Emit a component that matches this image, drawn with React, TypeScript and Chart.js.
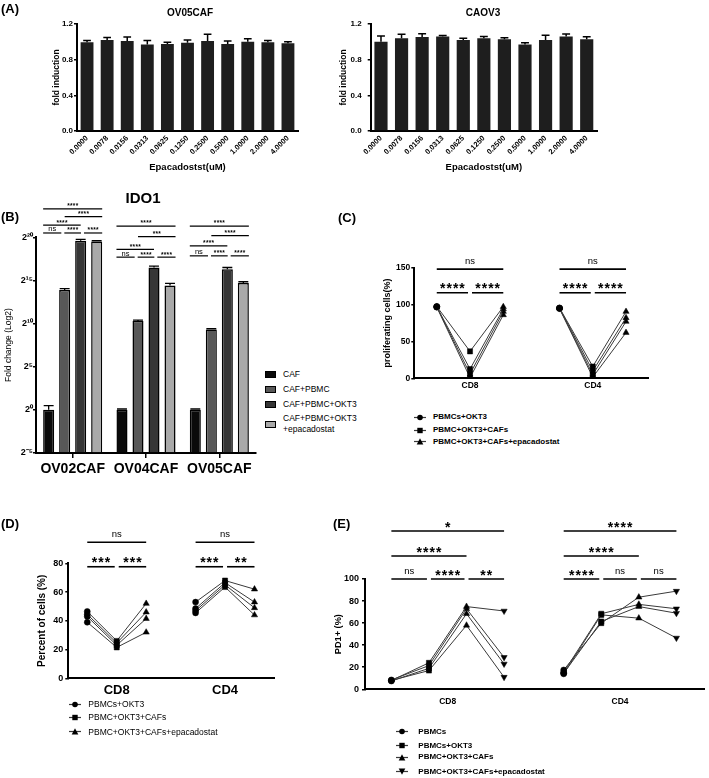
import React, { useEffect, useRef } from 'react';
import { Chart, registerables } from 'chart.js';

Chart.register(...registerables);

const FONT = '"Liberation Sans", Arial, Helvetica, sans-serif';
Chart.defaults.font.family = FONT;
Chart.defaults.color = '#000';

// ---------------- Panel A data ----------------
const A_DOSES = ['0.0000', '0.0078', '0.0156', '0.0313', '0.0625', '0.1250', '0.2500', '0.5000', '1.0000', '2.0000', '4.0000'];
const OV05_MEAN = [0.995, 1.02, 1.01, 0.97, 0.975, 0.99, 1.01, 0.975, 1.0, 0.995, 0.985];
const OV05_ERR = [0.02, 0.03, 0.045, 0.045, 0.02, 0.03, 0.075, 0.035, 0.035, 0.02, 0.015];
const CAOV3_MEAN = [1.0, 1.04, 1.055, 1.06, 1.02, 1.04, 1.03, 0.97, 1.02, 1.06, 1.03];
const CAOV3_ERR = [0.065, 0.045, 0.035, 0.01, 0.02, 0.02, 0.015, 0.02, 0.055, 0.028, 0.028];
const A_XTITLE = 'Epacadostst(uM)';
const A_YTITLE = 'fold induction';

// ---------------- Panel B data (log2 fold change) ----------------
const B_GROUPS = ['OV02CAF', 'OV04CAF', 'OV05CAF'];
const B_SERIES = ['CAF', 'CAF+PBMC', 'CAF+PBMC+OKT3', 'CAF+PBMC+OKT3\n+epacadostat'];
const B_CAF = [0, 0, 0];
const B_PBMC = [13.9, 10.3, 9.3];
const B_OKT3 = [19.6, 16.5, 16.3];
const B_EPA = [19.5, 14.4, 14.7];
const B_CAF_ERR = [0.5, 0.1, 0.1];
const B_PBMC_ERR = [0.15, 0.1, 0.1];
const B_OKT3_ERR = [0.15, 0.15, 0.2];
const B_EPA_ERR = [0.1, 0.25, 0.15];
const B_COLORS = ['#0a0a0a', '#585858', '#363636', '#a9a9a9'];
const B_SIG = [
  { g: 0, i: 0, j: 1, y: 20.5, t: 'ns' }, { g: 0, i: 1, j: 2, y: 20.5, t: '****' }, { g: 0, i: 2, j: 3, y: 20.5, t: '****' },
  { g: 0, i: 0, j: 2, y: 21.4, t: '****' }, { g: 0, i: 1, j: 3, y: 22.4, t: '****' }, { g: 0, i: 0, j: 3, y: 23.3, t: '****' },
  { g: 1, i: 0, j: 1, y: 17.7, t: 'ns' }, { g: 1, i: 1, j: 2, y: 17.7, t: '****' }, { g: 1, i: 2, j: 3, y: 17.7, t: '****' },
  { g: 1, i: 0, j: 2, y: 18.6, t: '****' }, { g: 1, i: 1, j: 3, y: 20.07, t: '***' }, { g: 1, i: 0, j: 3, y: 21.3, t: '****' },
  { g: 2, i: 0, j: 1, y: 17.85, t: 'ns' }, { g: 2, i: 1, j: 2, y: 17.85, t: '****' }, { g: 2, i: 2, j: 3, y: 17.85, t: '****' },
  { g: 2, i: 0, j: 2, y: 19.0, t: '****' }, { g: 2, i: 1, j: 3, y: 20.2, t: '****' }, { g: 2, i: 0, j: 3, y: 21.3, t: '****' },
];

// ---------------- Panel C data ----------------
const CELL_GROUPS = ['CD8', 'CD4'];
const C_SERIES = ['PBMCs+OKT3', 'PBMC+OKT3+CAFs', 'PBMC+OKT3+CAFs+epacadostat'];
const C_CD8_OKT3 = [97.5, 97, 97, 96.5];
const C_CD8_CAF = [36.5, 12.5, 6, 1];
const C_CD8_EPA = [97, 94, 90.5, 86];
const C_CD4_OKT3 = [95.5, 95, 95, 94.5];
const C_CD4_CAF = [16, 10, 5, 1.5];
const C_CD4_EPA = [90.5, 82, 77, 62];
const C_SIG = [
  { g: 0, i: 0, j: 2, y: 148, t: 'ns' }, { g: 0, i: 0, j: 1, y: 116, t: '****' }, { g: 0, i: 1, j: 2, y: 116, t: '****' },
  { g: 1, i: 0, j: 2, y: 148, t: 'ns' }, { g: 1, i: 0, j: 1, y: 116, t: '****' }, { g: 1, i: 1, j: 2, y: 116, t: '****' },
];

// ---------------- Panel D data ----------------
const D_SERIES = ['PBMCs+OKT3', 'PBMC+OKT3+CAFs', 'PBMC+OKT3+CAFs+epacadostat'];
const D_CD8_OKT3 = [46.5, 44.5, 43, 39];
const D_CD8_CAF = [26, 24.5, 23, 21.5];
const D_CD8_EPA = [52, 46, 41.5, 32];
const D_CD4_OKT3 = [53, 48.5, 47, 45.5];
const D_CD4_CAF = [68, 66.5, 65, 63.5];
const D_CD4_EPA = [62, 53, 49, 44];
const D_SIG = [
  { g: 0, i: 0, j: 2, y: 94.6, t: 'ns' }, { g: 0, i: 0, j: 1, y: 77.6, t: '***' }, { g: 0, i: 1, j: 2, y: 77.6, t: '***' },
  { g: 1, i: 0, j: 2, y: 94.6, t: 'ns' }, { g: 1, i: 0, j: 1, y: 77.6, t: '***' }, { g: 1, i: 1, j: 2, y: 77.6, t: '**' },
];

// ---------------- Panel E data ----------------
const E_SERIES = ['PBMCs', 'PBMCs+OKT3', 'PBMC+OKT3+CAFs', 'PBMC+OKT3+CAFs+epacadostat'];
const E_CD8_PBMC = [8, 8.5, 7.5, 8];
const E_CD8_OKT3 = [24, 21.5, 19, 17];
const E_CD8_CAF = [75, 73, 68.5, 58];
const E_CD8_EPA = [71, 29, 23, 11];
const E_CD4_PBMC = [17.5, 15.5, 14.5, 14];
const E_CD4_OKT3 = [60, 68.5, 61.5, 67.5];
const E_CD4_CAF = [83.5, 77, 75, 64.5];
const E_CD4_EPA = [89, 73, 69, 46.5];
const E_SIG = [
  { g: 0, i: 0, j: 3, y: 143.5, t: '*' }, { g: 0, i: 0, j: 2, y: 120.8, t: '****' },
  { g: 0, i: 0, j: 1, y: 100, t: 'ns' }, { g: 0, i: 1, j: 2, y: 100, t: '****' }, { g: 0, i: 2, j: 3, y: 100, t: '**' },
  { g: 1, i: 0, j: 3, y: 143.5, t: '****' }, { g: 1, i: 0, j: 2, y: 120.8, t: '****' },
  { g: 1, i: 0, j: 1, y: 100, t: '****' }, { g: 1, i: 1, j: 2, y: 100, t: 'ns' }, { g: 1, i: 2, j: 3, y: 100, t: 'ns' },
];

// ---------------- helpers ----------------
const bold = (size: number) => ({ size, weight: 'bold' as any, family: FONT });
const normal = (size: number) => ({ size, weight: 'normal' as any, family: FONT });
const axisBorder = { display: true, color: '#000', width: 2 };
const SUP: Record<string, string> = { '0': '⁰', '1': '¹', '2': '²', '3': '³', '4': '⁴', '5': '⁵', '6': '⁶', '7': '⁷', '8': '⁸', '9': '⁹', '-': '⁻' };
const toSup = (n: number) => String(n).split('').map((c) => SUP[c] || c).join('');

function errorBars(errs: number[][], capFrac: number, lw: number) {
  return {
    id: 'errbars',
    afterDatasetsDraw(chart: any) {
      const ctx = chart.ctx;
      const ys = chart.scales.y;
      ctx.save();
      ctx.strokeStyle = '#000';
      ctx.lineWidth = lw;
      errs.forEach((arr, di) => {
        const meta = chart.getDatasetMeta(di);
        meta.data.forEach((bar: any, i: number) => {
          const v = chart.data.datasets[di].data[i];
          const top = ys.getPixelForValue(v + arr[i]);
          const half = (bar.width * capFrac) / 2;
          ctx.beginPath();
          ctx.moveTo(bar.x, bar.y);
          ctx.lineTo(bar.x, top);
          ctx.moveTo(bar.x - half, top);
          ctx.lineTo(bar.x + half, top);
          ctx.stroke();
        });
      });
      ctx.restore();
    },
  };
}

type TxtStyle = { size: number; weight: string; ls: number; off: number };
type SigStyle = { lw: number; star: TxtStyle; ns: TxtStyle };

function sigPlugin(items: any[], style: SigStyle, xOf: (chart: any, it: any) => number[]) {
  return {
    id: 'sig',
    afterDraw(chart: any) {
      const ctx = chart.ctx;
      const ys = chart.scales.y;
      ctx.save();
      for (const it of items) {
        const [x1, x2] = xOf(chart, it);
        const py = ys.getPixelForValue(it.y);
        ctx.strokeStyle = '#000';
        ctx.lineWidth = style.lw;
        ctx.beginPath();
        ctx.moveTo(x1, py);
        ctx.lineTo(x2, py);
        ctx.stroke();
        const f = it.t === 'ns' ? style.ns : style.star;
        ctx.font = `${f.weight} ${f.size}px ${FONT}`;
        try { (ctx as any).letterSpacing = `${f.ls}px`; } catch (e) { /* ignore */ }
        ctx.textAlign = 'center';
        ctx.textBaseline = 'alphabetic';
        ctx.fillStyle = '#000';
        ctx.fillText(it.t, (x1 + x2) / 2 + f.ls / 2, py - f.off);
      }
      ctx.restore();
    },
  };
}

const barBracketX = (gapPx: number) => (chart: any, it: any) => {
  const n = chart.data.datasets.length;
  const bars = Array.from({ length: n }, (_, k) => chart.getDatasetMeta(k).data[it.g]);
  const L = bars[0].x - bars[0].width / 2;
  const R = bars[n - 1].x + bars[n - 1].width / 2;
  if (it.j === it.i + 1) {
    const seg = (R - L) / (n - 1);
    return [L + it.i * seg + (it.i > 0 ? gapPx : 0), L + it.j * seg - (it.j < n - 1 ? gapPx : 0)];
  }
  return [it.i === 0 ? L : bars[it.i].x, it.j === n - 1 ? R : bars[it.j].x];
};

const lineBracketX = (offsets: number[], gapPx: number) => (chart: any, it: any) => {
  const xs = chart.scales.x;
  const n = offsets.length;
  let x1 = xs.getPixelForValue(it.g + 1 + offsets[it.i]);
  let x2 = xs.getPixelForValue(it.g + 1 + offsets[it.j]);
  if (it.j === it.i + 1) {
    if (it.i > 0) x1 += gapPx;
    if (it.j < n - 1) x2 -= gapPx;
  }
  return [x1, x2];
};

// ---------------- chart factories ----------------
function makeA(mean: number[], err: number[], g: { padLeft: number; yWidth: number; tickPad: number; padRight: number }) {
  return {
    type: 'bar',
    data: {
      labels: A_DOSES,
      datasets: [{ data: mean, backgroundColor: '#1e1e1e', borderWidth: 0, barPercentage: 0.64, categoryPercentage: 1 }],
    },
    options: {
      responsive: false,
      animation: false,
      devicePixelRatio: 1,
      layout: { padding: { left: g.padLeft, top: 24, right: g.padRight, bottom: 0 } },
      plugins: { legend: { display: false }, tooltip: { enabled: false } },
      scales: {
        x: {
          grid: { display: false, drawTicks: false },
          border: axisBorder,
          ticks: { autoSkip: false, minRotation: 45, maxRotation: 45, padding: 3, font: bold(7.5), color: '#000' },
          title: { display: true, text: A_XTITLE, font: bold(9.5), color: '#000', padding: { top: 0, bottom: 5 } },
          afterFit: (s: any) => { s.height = 47; },
        },
        y: {
          min: 0,
          max: 1.2,
          ticks: { stepSize: 0.4, callback: (v: any) => Number(v).toFixed(1), font: bold(8), padding: g.tickPad, color: '#000' },
          grid: { drawOnChartArea: false, drawTicks: true, tickLength: 3, color: '#000', lineWidth: 1.5 },
          border: axisBorder,
          title: { display: true, text: A_YTITLE, font: bold(8.5), color: '#000', padding: 0 },
          afterFit: (s: any) => { s.width = g.yWidth; },
        },
      },
    },
    plugins: [errorBars([err], 0.6, 1.5)],
  };
}

function makeB() {
  const series = [B_CAF, B_PBMC, B_OKT3, B_EPA];
  const errs = [B_CAF_ERR, B_PBMC_ERR, B_OKT3_ERR, B_EPA_ERR];
  return {
    type: 'bar',
    data: {
      labels: B_GROUPS,
      datasets: series.map((d, i) => ({
        label: B_SERIES[i],
        data: d,
        base: -5,
        backgroundColor: B_COLORS[i],
        borderColor: '#000',
        borderWidth: 1.5,
        barPercentage: 0.69,
        categoryPercentage: 0.873,
      })),
    },
    options: {
      responsive: false,
      animation: false,
      devicePixelRatio: 1,
      layout: { padding: { left: 4, top: 47.3, right: 6, bottom: 0 } },
      plugins: { legend: { display: false }, tooltip: { enabled: false } },
      scales: {
        x: {
          offset: true,
          grid: { offset: false, drawOnChartArea: false, drawTicks: true, tickLength: 5, color: '#000', lineWidth: 1.5 },
          border: axisBorder,
          ticks: { font: bold(14), padding: 3, color: '#000' },
          afterFit: (s: any) => { s.height = 37; },
        },
        y: {
          min: -5,
          max: 20,
          ticks: { stepSize: 5, callback: (v: any) => '2' + toSup(Number(v)), font: bold(9), padding: 0, color: '#000' },
          grid: { drawOnChartArea: false, drawTicks: true, tickLength: 3, color: '#000', lineWidth: 1.5 },
          border: axisBorder,
          title: { display: true, text: 'Fold change (Log2)', font: normal(8.5), color: '#000', padding: 0 },
          afterFit: (s: any) => { s.width = 32; },
        },
      },
    },
    plugins: [
      errorBars(errs, 0.9, 1.3),
      sigPlugin(
        B_SIG,
        { lw: 1.2, star: { size: 6.5, weight: 'bold', ls: 0.3, off: 0.6 }, ns: { size: 7.5, weight: 'normal', ls: 0, off: 1.6 } },
        barBracketX(1.5)
      ),
    ],
  };
}

const MARKER_STYLE: Record<string, { ps: string; rot: number; r: number }> = {
  circle: { ps: 'circle', rot: 0, r: 3 },
  rect: { ps: 'rect', rot: 0, r: 3.6 },
  tri: { ps: 'triangle', rot: 0, r: 3.6 },
  triDown: { ps: 'triangle', rot: 180, r: 3.6 },
};

type LineCfg = {
  conds: number[][][]; // [group][condition][donor]
  markers: string[];
  offsets: number[];
  xmin: number; xmax: number; ymax: number; ystep: number;
  ytitle: string; yTitleFont: any; yTickFont: any; xTickFont: any;
  padding: any; yWidth: number; xHeight: number; xTickPad: number; yTickPad: number;
  sig: any[];
};

function makeLine(c: LineCfg) {
  const nDonor = c.conds[0][0].length;
  const datasets: any[] = [];
  for (let d = 0; d < nDonor; d++) {
    const data: any[] = [];
    const ps: string[] = [];
    const rot: number[] = [];
    const rad: number[] = [];
    c.conds.forEach((grp, g) => {
      if (g > 0) { data.push({ x: g + 0.5, y: null }); ps.push('circle'); rot.push(0); rad.push(0); }
      grp.forEach((vals, k) => {
        const m = MARKER_STYLE[c.markers[k]];
        data.push({ x: g + 1 + c.offsets[k], y: vals[d] });
        ps.push(m.ps); rot.push(m.rot); rad.push(m.r);
      });
    });
    datasets.push({
      data,
      pointStyle: ps,
      pointRotation: rot,
      pointRadius: rad,
      borderColor: '#3a3a3a',
      borderWidth: 1,
      pointBackgroundColor: '#000',
      pointBorderColor: '#000',
      pointBorderWidth: 0.5,
      spanGaps: false,
      tension: 0,
      fill: false,
    });
  }
  return {
    type: 'line',
    data: { datasets },
    options: {
      responsive: false,
      animation: false,
      devicePixelRatio: 1,
      layout: { padding: c.padding },
      plugins: { legend: { display: false }, tooltip: { enabled: false } },
      scales: {
        x: {
          type: 'linear',
          min: c.xmin,
          max: c.xmax,
          afterBuildTicks: (s: any) => { s.ticks = CELL_GROUPS.map((_, i) => ({ value: i + 1 })); },
          ticks: { callback: (v: any) => CELL_GROUPS[Math.round(Number(v)) - 1] ?? '', font: c.xTickFont, padding: c.xTickPad, color: '#000', autoSkip: false, maxRotation: 0 },
          grid: { display: false, drawTicks: false },
          border: axisBorder,
          afterFit: (s: any) => { s.height = c.xHeight; },
        },
        y: {
          min: 0,
          max: c.ymax,
          ticks: { stepSize: c.ystep, font: c.yTickFont, padding: c.yTickPad, color: '#000' },
          grid: { drawOnChartArea: false, drawTicks: true, tickLength: 3, color: '#000', lineWidth: 1.5 },
          border: axisBorder,
          title: { display: true, text: c.ytitle, font: c.yTitleFont, color: '#000', padding: 0 },
          afterFit: (s: any) => { s.width = c.yWidth; },
        },
      },
    },
    plugins: [
      sigPlugin(
        c.sig,
        { lw: 1.6, star: { size: 14, weight: 'bold', ls: 1, off: -0.5 }, ns: { size: 9.5, weight: 'normal', ls: 0, off: 5.5 } },
        lineBracketX(c.offsets, 2)
      ),
    ],
  };
}

// ---------------- components ----------------
function ChartCanvas({ left, top, width, height, make }: { left: number; top: number; width: number; height: number; make: () => any }) {
  const ref = useRef<HTMLCanvasElement>(null);
  useEffect(() => {
    const chart = new Chart(ref.current as HTMLCanvasElement, make());
    return () => chart.destroy();
  }, []);
  return <canvas ref={ref} width={width} height={height} style={{ position: 'absolute', left, top, width, height }} />;
}

function Txt({ x, y, size, weight = 'bold', left = false, children }: any) {
  return (
    <div
      style={{
        position: 'absolute', left: x, top: y,
        transform: left ? 'translate(0,-50%)' : 'translate(-50%,-50%)',
        fontSize: size, fontWeight: weight, lineHeight: 1, whiteSpace: 'nowrap', color: '#000',
      }}
    >
      {children}
    </div>
  );
}

function Marker({ kind }: { kind: string }) {
  if (kind === 'circle') return <circle cx={6} cy={4.5} r={2.8} fill="#000" />;
  if (kind === 'rect') return <rect x={3.3} y={1.8} width={5.4} height={5.4} fill="#000" />;
  if (kind === 'tri') return <polygon points="6,1.2 9.3,7.4 2.7,7.4" fill="#000" />;
  return <polygon points="6,7.8 9.3,1.6 2.7,1.6" fill="#000" />;
}

function LineLegend({ mx, tx, rows, kinds, labels, size, weight }: any) {
  return (
    <>
      {labels.map((t: string, i: number) => (
        <React.Fragment key={i}>
          <svg width={12} height={9} style={{ position: 'absolute', left: mx - 6, top: rows[i] - 4.5 }}>
            <line x1={0} y1={4.5} x2={12} y2={4.5} stroke="#3a3a3a" strokeWidth={1.2} />
            <Marker kind={kinds[i]} />
          </svg>
          <Txt x={tx} y={rows[i]} size={size} weight={weight} left>
            {t}
          </Txt>
        </React.Fragment>
      ))}
    </>
  );
}

function BarLegend() {
  const rows = [374, 389, 404, 424];
  return (
    <>
      {B_SERIES.map((t, i) => (
        <React.Fragment key={i}>
          <div
            style={{
              position: 'absolute', left: 265, top: rows[i] - 3.5, width: 11, height: 7, boxSizing: 'border-box',
              border: '1.5px solid #000', background: B_COLORS[i],
            }}
          />
          <div
            style={{
              position: 'absolute', left: 283, top: rows[i], transform: 'translate(0,-50%)',
              fontSize: 8.5, lineHeight: '11px', whiteSpace: 'pre', color: '#000',
            }}
          >
            {t}
          </div>
        </React.Fragment>
      ))}
    </>
  );
}

export default function App() {
  return (
    <div
      style={{
        position: 'absolute', left: 0, top: 0, width: 709, height: 778, background: '#fff',
        overflow: 'hidden', fontFamily: FONT,
      }}
    >
      {/* Panel A */}
      <ChartCanvas left={0} top={0} width={345} height={178}
        make={() => makeA(OV05_MEAN, OV05_ERR, { padLeft: 52, yWidth: 25, tickPad: 1, padRight: 47 })} />
      <ChartCanvas left={294} top={0} width={345} height={178}
        make={() => makeA(CAOV3_MEAN, CAOV3_ERR, { padLeft: 45, yWidth: 31.7, tickPad: 6, padRight: 42 })} />
      <Txt x={1} y={8} size={13} left>(A)</Txt>
      <Txt x={190} y={13} size={10}>OV05CAF</Txt>
      <Txt x={483} y={13} size={10}>CAOV3</Txt>

      {/* Panel B */}
      <ChartCanvas left={0} top={190} width={262} height={300} make={makeB} />
      <Txt x={1} y={216} size={13} left>(B)</Txt>
      <Txt x={143} y={197} size={15}>IDO1</Txt>
      <BarLegend />

      {/* Panel C */}
      <ChartCanvas left={340} top={240} width={320} height={165}
        make={() => makeLine({
          conds: [[C_CD8_OKT3, C_CD8_CAF, C_CD8_EPA], [C_CD4_OKT3, C_CD4_CAF, C_CD4_EPA]],
          markers: ['circle', 'rect', 'tri'],
          offsets: [-0.271, 0, 0.271],
          xmin: 0.546, xmax: 2.45, ymax: 150, ystep: 50,
          ytitle: 'proliferating cells(%)', yTitleFont: bold(9), yTickFont: bold(8.5), xTickFont: bold(8.5),
          padding: { left: 42.6, top: 27.7, right: 12, bottom: 0 }, yWidth: 31.7, xHeight: 26.7, xTickPad: 2, yTickPad: 1,
          sig: C_SIG,
        })} />
      <Txt x={338} y={217} size={13} left>(C)</Txt>
      <LineLegend mx={420} tx={433} rows={[417.3, 430, 441.7]} kinds={['circle', 'rect', 'tri']} labels={C_SERIES} size={8} weight="bold" />

      {/* Panel D */}
      <ChartCanvas left={0} top={520} width={290} height={182}
        make={() => makeLine({
          conds: [[D_CD8_OKT3, D_CD8_CAF, D_CD8_EPA], [D_CD4_OKT3, D_CD4_CAF, D_CD4_EPA]],
          markers: ['circle', 'rect', 'tri'],
          offsets: [-0.272, 0, 0.272],
          xmin: 0.553, xmax: 2.452, ymax: 80, ystep: 20,
          ytitle: 'Percent of cells (%)', yTitleFont: bold(10), yTickFont: bold(9), xTickFont: bold(13),
          padding: { left: 36.7, top: 43.3, right: 16, bottom: 0 }, yWidth: 31.6, xHeight: 23.7, xTickPad: 4, yTickPad: 2,
          sig: D_SIG,
        })} />
      <Txt x={1} y={523} size={13} left>(D)</Txt>
      <LineLegend mx={75} tx={88.3} rows={[704, 717.3, 731.7]} kinds={['circle', 'rect', 'tri']} labels={D_SERIES} size={8.5} weight="normal" />

      {/* Panel E */}
      <ChartCanvas left={320} top={510} width={389} height={200}
        make={() => makeLine({
          conds: [[E_CD8_PBMC, E_CD8_OKT3, E_CD8_CAF, E_CD8_EPA], [E_CD4_PBMC, E_CD4_OKT3, E_CD4_CAF, E_CD4_EPA]],
          markers: ['circle', 'rect', 'tri', 'triDown'],
          offsets: [-0.327, -0.109, 0.109, 0.327],
          xmin: 0.52, xmax: 2.49, ymax: 100, ystep: 20,
          ytitle: 'PD1+ (%)', yTitleFont: bold(9.2), yTickFont: bold(9), xTickFont: bold(8.5),
          padding: { left: 12.8, top: 69, right: 2.3, bottom: 0 }, yWidth: 32.2, xHeight: 20.7, xTickPad: 7, yTickPad: 3,
          sig: E_SIG,
        })} />
      <Txt x={333} y={523} size={13} left>(E)</Txt>
      <LineLegend mx={401.7} tx={418.3} rows={[731.7, 745.7, 757.3, 771.7]} kinds={['circle', 'rect', 'tri', 'triDown']} labels={E_SERIES} size={8} weight="bold" />
    </div>
  );
}
